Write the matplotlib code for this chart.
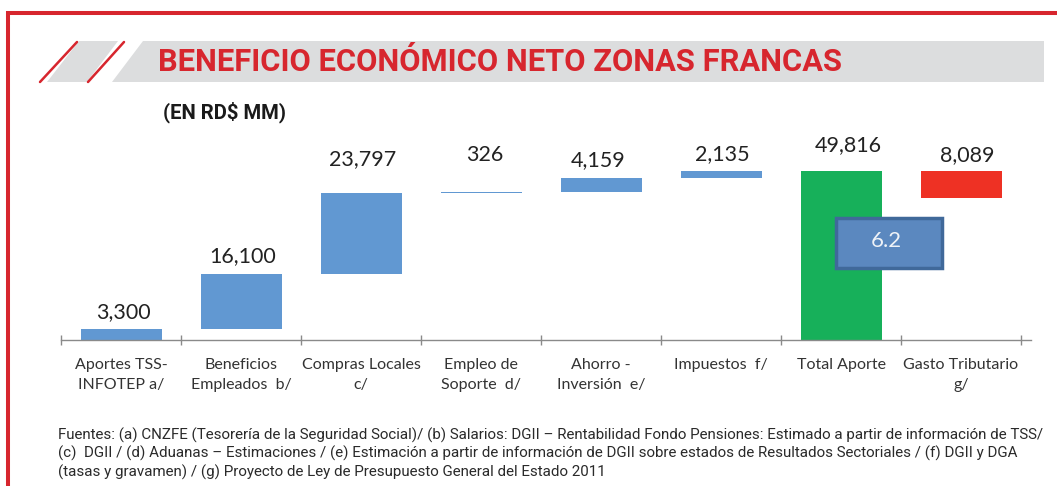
import matplotlib
matplotlib.use('Agg')
import matplotlib.pyplot as plt
from matplotlib.patches import Polygon, Rectangle
from matplotlib.lines import Line2D
from matplotlib import transforms

# ---------------- data ----------------
categories = ["Aportes TSS-\nINFOTEP a/", "Beneficios\nEmpleados  b/",
              "Compras Locales\nc/", "Empleo de\nSoporte  d/",
              "Ahorro -\nInversión  e/", "Impuestos  f/", "Total Aporte",
              "Gasto Tributario\ng/"]
increments = [3300, 16100, 23797, 326, 4159, 2135]
total_aporte = 49816
gasto_tributario = 8089
value_labels = ["3,300", "16,100", "23,797", "326", "4,159", "2,135",
                "49,816", "8,089"]
ratio_label = "6.2"
title = "BENEFICIO ECONÓMICO NETO ZONAS FRANCAS"
subtitle = "(EN RD$ MM)"
footer_lines = [
    "Fuentes: (a) CNZFE (Tesorería de la Seguridad Social)/ (b) Salarios: DGII \u2013 Rentabilidad Fondo Pensiones: Estimado a partir de información de TSS/",
    "(c)  DGII / (d) Aduanas \u2013 Estimaciones / (e) Estimación a partir de información de DGII sobre estados de Resultados Sectoriales / (f) DGII y DGA",
    "(tasas y gravamen) / (g) Proyecto de Ley de Presupuesto General del Estado 2011",
]

# ---------------- style ----------------
W, H = 1057, 486
RED = '#D7262E'
BLUE = '#6198D2'
GREEN = '#17B05A'
BARRED = '#EE3124'
GREY_BAND = '#DCDDDE'

fig = plt.figure(figsize=(W / 100, H / 100), dpi=100)
fig.patch.set_facecolor('white')

def fx(x):
    return x / W

def fy(y):
    return 1 - y / H

renderer = fig.canvas.get_renderer()

def fit_width(t, target):
    for _ in range(4):
        w = t.get_window_extent(renderer).width
        t.set_fontsize(t.get_fontsize() * target / w)

# red frame
fig.add_artist(Line2D([fx(6), fx(W)], [fy(13), fy(13)], color=RED, lw=2.9,
                      transform=fig.transFigure, solid_capstyle='butt'))
fig.add_artist(Line2D([fx(8), fx(8)], [fy(11), fy(H)], color=RED, lw=2.9,
                      transform=fig.transFigure, solid_capstyle='butt'))

# title band decoration
def poly(pts, color):
    fig.add_artist(Polygon([(fx(x), fy(y)) for x, y in pts], closed=True,
                           facecolor=color, edgecolor='none',
                           transform=fig.transFigure))

poly([(47, 82), (87, 82), (118, 41), (79, 41)], GREY_BAND)
poly([(112, 82), (1044, 82), (1044, 41), (143, 41)], GREY_BAND)
for (x0, x1) in [(40, 77), (88, 124)]:
    fig.add_artist(Line2D([fx(x0), fx(x1)], [fy(82), fy(42)], color=RED,
                          lw=1.8, transform=fig.transFigure,
                          solid_capstyle='round'))

tt = fig.text(fx(158), fy(62), title, color=RED, fontsize=22,
              fontweight='bold', family=['Liberation Sans Narrow', 'Roboto'],
              ha='left', va='center')
fit_width(tt, 683)

st = fig.text(fx(163), fy(112), subtitle, color='#1a1a1a', fontsize=13,
              fontweight='bold', family=['Roboto'], ha='left', va='center')
fit_width(st, 123)

# ---------------- chart ----------------
ax_left, ax_right = 61, 1021
ax_bottom, ax_top = 340, 130
ax = fig.add_axes([fx(ax_left), fy(ax_bottom), (ax_right - ax_left) / W,
                   (ax_bottom - ax_top) / H])
px_per_unit = 169 / total_aporte
ax.set_ylim(0, (ax_bottom - ax_top) / px_per_unit)
ax.set_xlim(-0.5, 7.5)

n = len(categories)
bottoms, heights, colors = [], [], []
run = 0
for v in increments:
    bottoms.append(run)
    heights.append(v)
    colors.append(BLUE)
    run += v
bottoms.append(0)
heights.append(total_aporte)
colors.append(GREEN)
bottoms.append(total_aporte - gasto_tributario)
heights.append(gasto_tributario)
colors.append(BARRED)

xs = list(range(n))
ax.bar(xs, heights, bottom=bottoms, width=0.675, color=colors, linewidth=0)

# value labels (gap above bar top in px, horizontal nudge in px)
label_gap = [17, 18, 34, 37, 18, 17, 26, 16]
label_dx = [2, 2, 2, 4, -3, 1, 7, 6]
for i in range(n):
    top = bottoms[i] + heights[i]
    y = top + label_gap[i] / px_per_unit
    x = xs[i] + label_dx[i] / 120
    ax.text(x, y, value_labels[i], ha='center', va='center', fontsize=15.5,
            family='Lato', color='#222222')

# axis
for s in ['top', 'right', 'left']:
    ax.spines[s].set_visible(False)
ax.spines['bottom'].set_color('#8a8a8a')
ax.spines['bottom'].set_linewidth(1.0)
ax.spines['bottom'].set_bounds(-0.5, 7.58)
ax.patch.set_alpha(0)
ax.set_yticks([])
ax.set_xticks([i - 0.5 for i in range(n + 1)])
ax.set_xticklabels([])
ax.tick_params(axis='x', which='major', direction='inout', length=7,
               color='#8a8a8a', width=1.0)

tr = transforms.blended_transform_factory(ax.transData, fig.transFigure)
for i, c in enumerate(categories):
    t = fig.text(xs[i], fy(358), c, transform=tr, ha='center', va='top',
                 multialignment='center', fontsize=11.5, family='Lato',
                 color='#333333', linespacing=1.5)

# ratio box
box = fig.add_artist(Rectangle((fx(836), fy(268)), (942 - 836) / W,
                               (268 - 218) / H, transform=fig.transFigure,
                               facecolor='#5B88BF', edgecolor='#40699A',
                               lw=2.5))
fig.text(fx(886), fy(241), ratio_label, ha='center', va='center',
         fontsize=16, family='Lato', color='#EEF2F7')

# footer
for k, line in enumerate(footer_lines):
    ft = fig.text(fx(58), fy(435 + 18.5 * k), line, ha='left', va='center',
                  fontsize=11, family=['Liberation Sans Narrow', 'Roboto'],
                  color='#2a2a2a')
    if k == 0:
        fit_width(ft, 985)
        fsize = ft.get_fontsize()
    else:
        ft.set_fontsize(fsize)

fig.savefig('out.png', dpi=100)
